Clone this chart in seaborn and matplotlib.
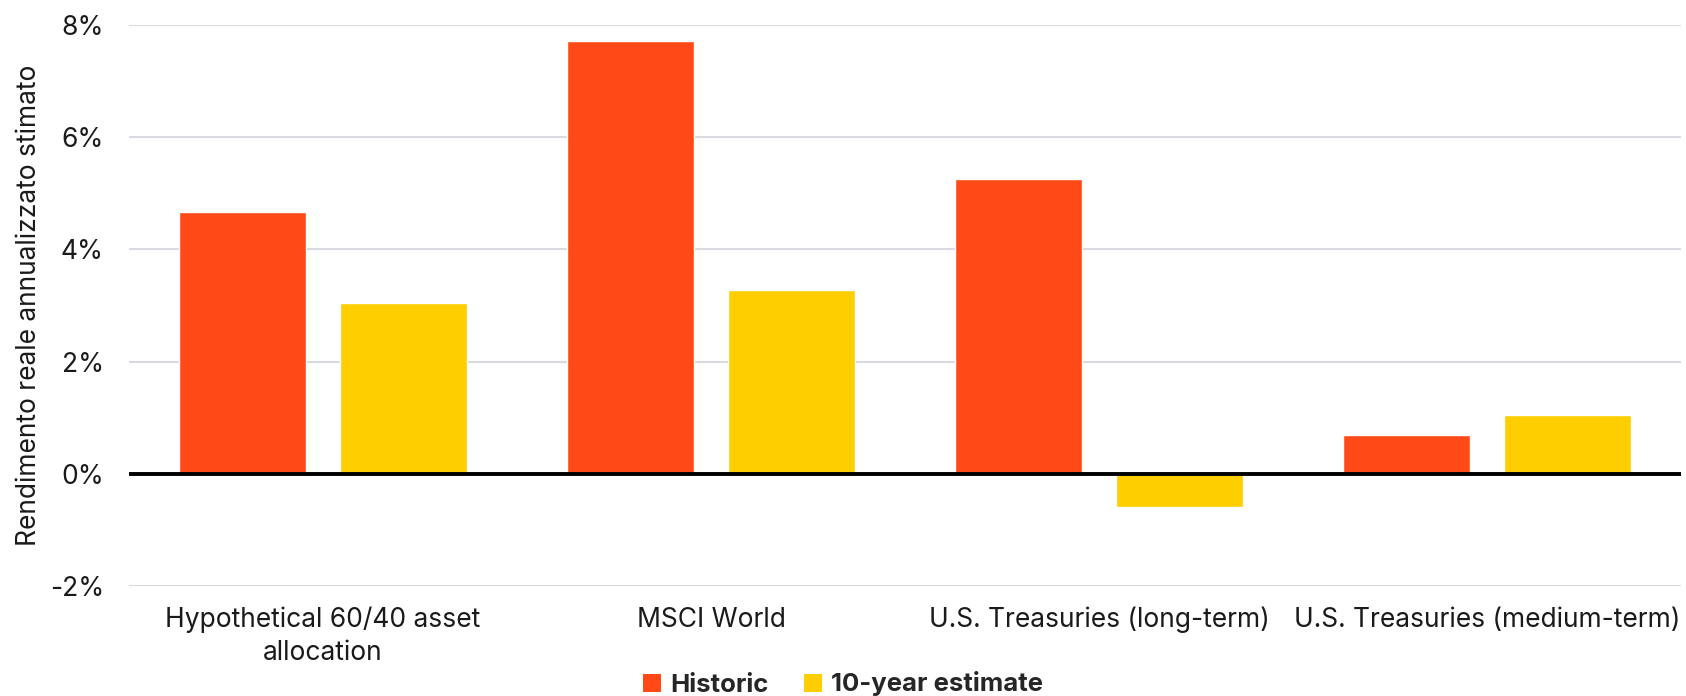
import matplotlib
matplotlib.use("Agg")
import matplotlib.pyplot as plt
import matplotlib.ticker as mticker
from matplotlib.patches import Patch
import seaborn as sns
import pandas as pd

categories = ["Hypothetical 60/40 asset\nallocation", "MSCI World",
              "U.S. Treasuries (long-term)", "U.S. Treasuries (medium-term)"]
series_names = ["Historic", "10-year estimate"]
historic = [4.66, 7.71, 5.25, 0.70]
estimate = [3.05, 3.27, -0.59, 1.05]
y_ticks = [-2, 0, 2, 4, 6, 8]
colors = ["#FF4A17", "#FFCE00"]

df = pd.DataFrame({
    "category": categories * 2,
    "series": [series_names[0]] * 4 + [series_names[1]] * 4,
    "value": historic + estimate,
})

sns.set_theme(style="white")
plt.rcParams["font.family"] = ["Inter", "DejaVu Sans"]

fig = plt.figure(figsize=(16.86, 6.96), dpi=100)
ax = fig.add_axes([129 / 1686, 1 - 586 / 696, 1552 / 1686, (586 - 25) / 696])

sns.barplot(data=df, x="category", y="value", hue="series", order=categories,
            hue_order=series_names, palette=colors, width=0.828, gap=0.21,
            saturation=1, legend=False, ax=ax, zorder=3)

ax.set_ylim(-2, 8)
ax.set_xlim(-0.5, 3.5)
ax.set_yticks(y_ticks)
ax.yaxis.set_major_formatter(mticker.FuncFormatter(lambda v, p: f"{v:.0f}%"))
ax.grid(axis="y", color="#D9D9E0", linewidth=1.5, zorder=0)
ax.axhline(0, color="black", linewidth=2.8, zorder=4)
for s in ax.spines.values():
    s.set_visible(False)
ax.tick_params(axis="y", labelsize=19, length=0, pad=18, colors="#1a1a1a")
ax.tick_params(axis="x", labelsize=19, length=0, pad=15, colors="#1a1a1a")
for lbl in ax.get_xticklabels():
    lbl.set_linespacing(1.35)
ax.set_xlabel("")
ax.set_ylabel("Rendimento reale annualizzato stimato", fontsize=19, color="#1a1a1a")
ax.yaxis.set_label_coords(-0.056, 0.5)

handles = [Patch(facecolor=c, edgecolor="none") for c in colors]
fig.legend(handles, series_names, loc="center", bbox_to_anchor=(0.5, 1 - 684 / 696),
           ncol=2, frameon=False, prop={"weight": "bold", "size": 18.5},
           handlelength=0.7, handleheight=0.7, handletextpad=0.35, columnspacing=1.4)

fig.savefig("out.png", dpi=100)
